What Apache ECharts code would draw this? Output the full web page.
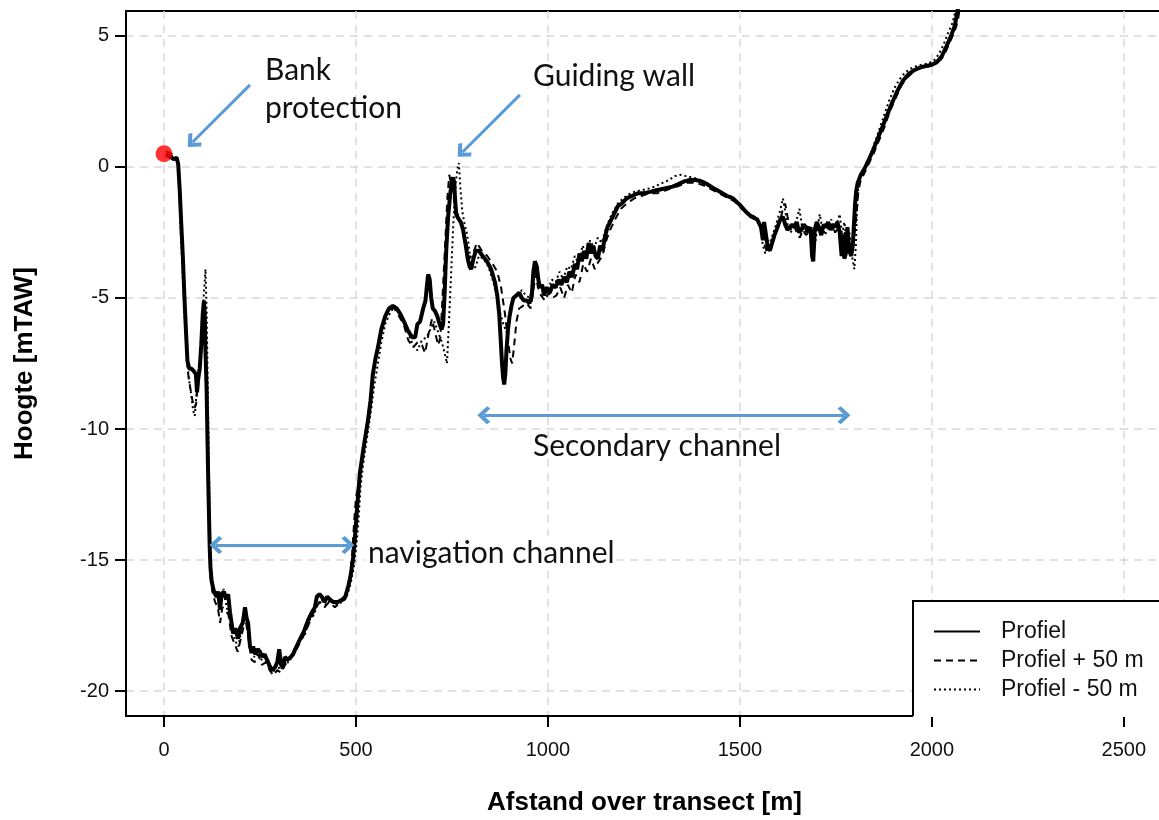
<!DOCTYPE html>
<html>
<head>
<meta charset="utf-8">
<title>Profiel transect</title>
<script src="https://cdn.jsdelivr.net/npm/echarts@6/dist/echarts.min.js"></script>
<style>
  html, body { margin: 0; padding: 0; background: #fff; }
  #chart { width: 1159px; height: 820px; }
</style>
</head>
<body>
<div id="chart"></div>
<script>
// afstand [m], hoogte [mTAW]
var profiel = [
  [5, 0.45], [15, 0.4], [25, 0.3], [33, 0.35], [37, 0.1], [41, -0.9], [45, -2.2], [49, -3.4], [53, -4.9], [57, -6.2],
  [61, -7.4], [66, -7.7], [72, -7.7], [78, -7.8], [83, -7.9], [86, -8.6], [89, -8.1], [93, -7.7], [97, -6.8], [101, -5.6],
  [104, -5.1], [106, -5.6], [108, -7.0], [111, -8.5], [113, -10.2], [115, -11.8], [117, -13.2], [119, -14.5], [121, -15.3], [124, -15.8],
  [130, -16.2], [137, -16.4], [141, -16.2], [146, -16.9], [150, -16.3], [156, -16.2], [162, -16.5], [167, -16.3], [172, -17.0], [180, -17.8],
  [186, -17.6], [193, -18.0], [198, -17.6], [205, -17.4], [211, -16.8], [215, -17.2], [219, -17.4], [224, -18.3], [228, -18.5], [232, -18.3],
  [238, -18.6], [244, -18.4], [250, -18.5], [256, -18.7], [262, -18.6], [268, -18.8], [274, -19.0], [281, -19.2], [289, -19.1], [295, -18.9],
  [300, -18.4], [305, -19.0], [310, -19.1], [315, -18.7], [322, -18.8], [330, -18.7], [336, -18.6], [345, -18.3], [355, -18.0], [365, -17.7],
  [375, -17.3], [385, -17.0], [393, -16.8], [398, -16.4], [405, -16.3], [411, -16.4], [418, -16.6], [425, -16.4], [432, -16.5], [440, -16.6],
  [453, -16.6], [465, -16.5], [472, -16.4], [480, -16.0], [486, -15.6], [492, -15.0], [497, -14.2], [503, -13.0], [510, -11.7], [520, -10.7],
  [531, -9.7], [538, -8.9], [544, -7.9], [551, -7.3], [557, -6.9], [566, -6.2], [576, -5.7], [586, -5.4], [596, -5.3], [606, -5.4],
  [615, -5.6], [622, -5.8], [634, -6.2], [646, -6.5], [654, -6.5], [660, -6.0], [667, -5.9], [675, -5.4], [681, -5.1], [685, -4.5],
  [688, -4.1], [692, -4.3], [696, -5.0], [700, -5.4], [706, -5.5], [712, -5.7], [718, -6.0], [723, -6.2], [727, -6.0], [731, -4.8],
  [735, -3.2], [740, -1.9], [745, -1.1], [749, -0.6], [753, -0.4], [756, -0.6], [758, -1.2], [761, -1.8], [764, -1.9], [768, -2.0],
  [773, -2.1], [779, -2.4], [786, -3.0], [791, -3.5], [796, -3.8], [800, -3.9], [806, -3.5], [812, -3.2], [820, -3.2], [830, -3.4],
  [841, -3.6], [852, -3.9], [862, -4.4], [868, -4.9], [873, -5.6], [877, -6.6], [880, -7.4], [883, -8.0], [886, -8.3], [889, -7.9],
  [892, -7.0], [896, -6.2], [900, -5.7], [905, -5.3], [910, -5.0], [918, -4.9], [925, -4.8], [932, -5.0], [938, -5.1], [945, -5.1],
  [952, -5.2], [958, -4.9], [962, -4.0], [966, -3.6], [971, -3.8], [975, -4.3], [979, -4.6], [985, -4.5], [990, -4.9], [997, -4.6],
  [1005, -4.8], [1012, -4.5], [1020, -4.6], [1028, -4.3], [1035, -4.5], [1042, -4.2], [1049, -4.4], [1056, -4.0], [1063, -4.2], [1070, -3.7],
  [1076, -3.9], [1082, -3.3], [1088, -3.6], [1094, -3.2], [1100, -3.5], [1106, -2.9], [1112, -3.3], [1118, -3.0], [1124, -3.4], [1130, -3.5],
  [1136, -3.0], [1142, -3.2], [1148, -2.7], [1155, -2.3], [1162, -2.1], [1172, -1.8], [1182, -1.5], [1192, -1.4], [1205, -1.2], [1220, -1.1],
  [1235, -1.0], [1250, -1.0], [1266, -0.95], [1280, -0.9], [1295, -0.85], [1310, -0.8], [1325, -0.75], [1340, -0.65], [1355, -0.55], [1370, -0.5],
  [1385, -0.5], [1400, -0.55], [1414, -0.65], [1430, -0.8], [1448, -0.95], [1465, -1.1], [1482, -1.2], [1500, -1.45], [1515, -1.7], [1530, -1.9],
  [1545, -2.0], [1555, -2.3], [1560, -2.8], [1563, -2.1], [1567, -2.5], [1572, -3.0], [1578, -3.2], [1584, -2.9], [1590, -2.6], [1598, -2.3],
  [1605, -2.0], [1612, -1.9], [1618, -2.2], [1624, -2.4], [1630, -2.3], [1636, -2.2], [1642, -2.3], [1648, -2.1], [1654, -2.5], [1660, -2.4],
  [1666, -2.2], [1672, -2.3], [1678, -2.5], [1684, -2.3], [1688, -3.4], [1691, -3.6], [1695, -2.4], [1700, -2.1], [1706, -2.3], [1712, -2.6],
  [1718, -2.2], [1724, -2.3], [1730, -2.1], [1736, -2.4], [1742, -2.2], [1748, -2.3], [1754, -2.1], [1760, -2.5], [1765, -3.4], [1768, -2.6],
  [1772, -3.5], [1776, -3.3], [1780, -2.3], [1785, -3.2], [1790, -3.4], [1794, -3.0], [1797, -2.2], [1800, -1.4], [1803, -0.9], [1807, -0.6],
  [1815, -0.3], [1825, -0.05], [1838, 0.35], [1850, 0.75], [1865, 1.3], [1880, 1.85], [1895, 2.4], [1910, 2.9], [1925, 3.3], [1940, 3.55],
  [1955, 3.7], [1970, 3.8], [1985, 3.85], [2000, 3.9], [2013, 4.0], [2025, 4.2], [2038, 4.6], [2050, 5.0], [2060, 5.4], [2066, 5.9],
  [2071, 6.3]
];

var profielPlus50 = [
  [5, 0.6], [20, 0.5], [32, 0.4], [38, 0.0], [43, -1.5], [48, -3.0], [53, -4.8], [58, -6.6], [62, -7.8], [68, -8.4],
  [74, -8.9], [80, -9.2], [84, -9.0], [88, -8.2], [94, -7.6], [99, -6.4], [103, -5.3], [106, -5.8], [109, -7.5], [112, -9.5],
  [115, -12.0], [118, -14.3], [121, -15.6], [126, -16.2], [133, -16.6], [140, -16.8], [146, -17.4], [152, -16.8], [160, -16.9], [168, -17.1],
  [176, -17.9], [184, -18.2], [192, -18.5], [200, -18.0], [208, -17.5], [214, -17.4], [220, -18.0], [228, -18.8], [236, -18.9], [245, -18.6],
  [255, -19.0], [265, -18.9], [275, -19.2], [285, -19.4], [295, -19.2], [305, -19.3], [315, -19.0], [328, -18.8], [342, -18.5], [356, -18.1],
  [370, -17.7], [384, -17.2], [396, -16.8], [406, -16.6], [418, -16.8], [430, -16.6], [445, -16.8], [460, -16.6], [472, -16.5], [482, -15.9],
  [490, -14.8], [495, -13.6], [500, -12.6], [505, -12.3], [512, -11.5], [522, -10.4], [533, -9.4], [542, -8.2], [552, -7.2], [562, -6.4],
  [574, -5.8], [588, -5.4], [600, -5.4], [612, -5.7], [624, -6.0], [636, -6.6], [648, -6.9], [660, -6.7], [672, -6.8], [680, -7.1],
  [690, -6.3], [698, -5.8], [706, -6.3], [714, -6.8], [720, -6.5], [726, -4.8], [732, -3.0], [738, -1.2], [743, -0.3], [747, -0.25],
  [751, -0.9], [756, -1.3], [762, -1.7], [770, -2.0], [778, -2.3], [786, -2.8], [795, -3.5], [805, -3.3], [815, -2.9], [828, -3.2],
  [842, -3.4], [856, -3.7], [868, -4.0], [878, -4.6], [888, -5.6], [896, -6.6], [902, -7.3], [907, -7.5], [912, -6.8], [918, -5.9],
  [925, -5.4], [935, -5.3], [945, -5.2], [955, -5.4], [963, -4.6], [968, -4.1], [974, -4.6], [982, -4.9], [992, -5.1], [1002, -4.8],
  [1012, -5.0], [1022, -4.9], [1032, -4.6], [1042, -5.0], [1052, -4.5], [1062, -4.8], [1072, -4.1], [1082, -4.4], [1092, -3.7], [1102, -4.0],
  [1112, -3.5], [1122, -3.9], [1132, -3.6], [1142, -3.4], [1152, -2.8], [1162, -2.4], [1175, -2.0], [1190, -1.6], [1205, -1.4], [1225, -1.2],
  [1245, -1.1], [1265, -1.0], [1285, -1.0], [1305, -0.9], [1325, -0.8], [1345, -0.7], [1365, -0.6], [1385, -0.6], [1405, -0.7], [1425, -0.85],
  [1445, -1.0], [1465, -1.15], [1485, -1.3], [1505, -1.6], [1522, -1.8], [1538, -1.9], [1550, -2.1], [1558, -2.6], [1565, -3.0], [1572, -3.3],
  [1580, -3.1], [1588, -2.7], [1596, -2.4], [1604, -2.1], [1612, -1.6], [1618, -1.4], [1624, -1.9], [1632, -2.4], [1640, -2.2], [1648, -2.5],
  [1656, -2.7], [1664, -2.4], [1672, -2.6], [1680, -2.5], [1690, -3.0], [1698, -2.4], [1708, -2.2], [1718, -2.5], [1728, -2.4], [1738, -2.2],
  [1748, -2.5], [1758, -2.3], [1766, -2.8], [1774, -2.5], [1782, -2.9], [1790, -3.1], [1798, -2.6], [1804, -1.8], [1808, -1.0], [1813, -0.6],
  [1822, -0.3], [1835, 0.1], [1848, 0.5], [1862, 1.0], [1876, 1.5], [1890, 2.1], [1905, 2.6], [1920, 3.1], [1935, 3.4], [1950, 3.6],
  [1965, 3.75], [1980, 3.8], [1995, 3.85], [2010, 3.95], [2024, 4.1], [2036, 4.4], [2048, 4.8], [2060, 5.2], [2068, 5.6], [2074, 6.2]
];

var profielMin50 = [
  [5, 0.5], [18, 0.45], [30, 0.35], [36, 0.2], [40, -1.0], [44, -2.6], [49, -4.2], [54, -5.8], [59, -7.1], [64, -8.0],
  [70, -8.6], [76, -9.3], [80, -9.5], [84, -8.8], [89, -7.8], [95, -7.4], [100, -6.0], [104, -4.8], [108, -3.9], [111, -5.5],
  [114, -8.4], [117, -11.5], [120, -14.0], [123, -15.4], [128, -16.0], [135, -16.3], [142, -16.5], [148, -16.6], [155, -16.1], [162, -16.7],
  [170, -17.2], [178, -17.6], [186, -18.1], [194, -18.3], [202, -17.6], [210, -17.0], [218, -17.6], [226, -18.4], [235, -18.7], [244, -18.5],
  [254, -18.8], [264, -18.9], [274, -19.1], [284, -19.3], [294, -19.0], [304, -19.2], [314, -18.9], [326, -18.9], [340, -18.4], [354, -18.0],
  [366, -17.9], [378, -17.3], [390, -17.1], [400, -16.7], [410, -16.5], [422, -16.7], [436, -16.5], [450, -16.7], [464, -16.6], [476, -16.4],
  [486, -15.9], [494, -15.3], [500, -14.6], [506, -13.6], [512, -12.2], [520, -11.2], [530, -10.2], [540, -9.2], [548, -8.3], [556, -7.6],
  [566, -6.7], [576, -6.0], [588, -5.6], [600, -5.3], [612, -5.5], [624, -5.9], [636, -6.3], [648, -6.8], [660, -7.0], [672, -6.6],
  [684, -6.5], [694, -6.2], [704, -5.9], [714, -6.3], [724, -6.7], [731, -7.1], [737, -7.5], [742, -6.0], [748, -4.0], [754, -2.0],
  [760, -0.6], [765, 0.0], [768, 0.15], [772, -0.8], [777, -1.7], [783, -2.2], [790, -2.6], [797, -3.4], [804, -3.9], [812, -3.8],
  [820, -3.4], [832, -3.5], [845, -3.8], [858, -4.4], [868, -5.0], [876, -5.6], [884, -6.0], [892, -6.3], [898, -6.0], [904, -5.4],
  [912, -5.0], [922, -4.9], [932, -4.7], [942, -4.9], [952, -5.0], [960, -4.6], [966, -3.9], [972, -4.2], [980, -4.5], [990, -4.5],
  [1000, -4.7], [1010, -4.3], [1020, -4.4], [1030, -4.0], [1040, -4.3], [1050, -3.8], [1060, -3.9], [1070, -3.4], [1080, -3.7], [1090, -3.0],
  [1100, -3.3], [1110, -2.8], [1120, -3.1], [1130, -2.7], [1140, -2.9], [1150, -2.4], [1160, -2.0], [1170, -1.7], [1182, -1.4], [1196, -1.2],
  [1210, -1.05], [1225, -0.95], [1240, -0.9], [1255, -0.85], [1270, -0.8], [1285, -0.7], [1300, -0.6], [1315, -0.5], [1330, -0.35], [1345, -0.3],
  [1360, -0.35], [1375, -0.4], [1390, -0.45], [1405, -0.55], [1420, -0.7], [1438, -0.85], [1456, -1.0], [1474, -1.1], [1492, -1.3], [1510, -1.6],
  [1525, -1.8], [1540, -1.9], [1552, -2.2], [1560, -3.0], [1566, -3.3], [1572, -3.1], [1580, -2.8], [1590, -2.4], [1598, -2.0], [1606, -1.6],
  [1612, -1.2], [1617, -1.6], [1624, -2.2], [1632, -2.5], [1640, -2.3], [1648, -2.0], [1655, -1.6], [1662, -2.3], [1670, -2.5], [1678, -2.2],
  [1686, -2.6], [1694, -3.1], [1700, -2.5], [1708, -1.8], [1714, -2.3], [1722, -2.6], [1730, -2.3], [1738, -2.0], [1745, -2.5], [1752, -2.2],
  [1760, -1.8], [1766, -2.6], [1772, -2.1], [1778, -2.9], [1785, -2.5], [1792, -3.4], [1798, -3.9], [1802, -3.0], [1805, -1.6], [1808, -0.8],
  [1814, -0.4], [1824, -0.1], [1836, 0.3], [1848, 0.8], [1860, 1.3], [1874, 1.9], [1888, 2.5], [1902, 3.0], [1916, 3.35], [1930, 3.6],
  [1945, 3.75], [1960, 3.85], [1975, 3.9], [1990, 3.95], [2005, 4.05], [2018, 4.3], [2030, 4.65], [2042, 5.1], [2054, 5.5], [2062, 6.0],
  [2067, 6.4]
];

var startPunt = [[0, 0.5]];

var xTicks = [0, 500, 1000, 1500, 2000, 2500];
var yTicks = [-20, -15, -10, -5, 0, 5];

// pijlen: [van, naar] in data-coordinaten
var pijlBank = [[224, 3.13], [74, 0.94]];
var pijlGeleidewand = [[927, 2.75], [777, 0.56]];
var pijlNevengeul = [[833, -9.47], [1771, -9.47]];
var pijlVaargeul = [[135, -14.43], [479, -14.43]];

var legendNames = ['Profiel', 'Profiel + 50 m', 'Profiel - 50 m'];

var blue = '#5B9BD5';
var chevron = 'path://M0,0L10,8.5L7.4,11.4L0,5.2L-7.4,11.4L-10,8.5Z';
var annFont = 'Lato, "Open Sans", sans-serif';
var axisFont = '"Liberation Sans", Arial, sans-serif';

var myChart = echarts.init(document.getElementById('chart'));

var option = {
  animation: false,
  backgroundColor: '#fff',
  grid: {
    left: 126, right: -4, top: 11, bottom: 104,
    outerBoundsMode: 'none',
    show: true, borderColor: '#000', borderWidth: 2, backgroundColor: 'transparent'
  },
  xAxis: {
    type: 'value', min: -99, max: 2602,
    name: 'Afstand over transect [m]', nameLocation: 'middle', nameGap: 74,
    nameTextStyle: { fontFamily: axisFont, fontWeight: 'bold', fontSize: 26, color: '#000' },
    axisLine: { show: true, onZero: false, lineStyle: { color: '#000', width: 2 } },
    axisTick: { show: true, length: 11, customValues: xTicks, lineStyle: { color: '#000', width: 2 } },
    axisLabel: {
      customValues: xTicks, margin: 24, fontFamily: axisFont, fontSize: 20, color: '#111',
      formatter: function (v) { return String(v); }
    },
    splitLine: { show: true, lineStyle: { color: '#d9d9d9', width: 1.5, type: [8, 6] } }
  },
  yAxis: {
    type: 'value', min: -20.95, max: 5.95,
    name: 'Hoogte [mTAW]', nameLocation: 'middle', nameGap: 88, nameRotate: 90,
    nameTextStyle: { fontFamily: axisFont, fontWeight: 'bold', fontSize: 26, color: '#000' },
    axisLine: { show: true, onZero: false, lineStyle: { color: '#000', width: 2 } },
    axisTick: { show: true, length: 11, customValues: yTicks, lineStyle: { color: '#000', width: 2 } },
    axisLabel: {
      customValues: yTicks, margin: 17, fontFamily: axisFont, fontSize: 20, color: '#111',
      formatter: function (v) { return String(v); }
    },
    splitLine: { show: true, lineStyle: { color: '#d9d9d9', width: 1.5, type: [8, 6] } }
  },
  legend: {
    data: legendNames,
    orient: 'vertical', left: 913, right: -150, top: 601,
    padding: [19, 40, 16, 20],
    itemWidth: 46, itemHeight: 14, itemGap: 6,
    itemStyle: { opacity: 0 },
    backgroundColor: '#fff', borderWidth: 0, borderRadius: 0,
    textStyle: { fontFamily: axisFont, fontSize: 23, color: '#111', padding: [0, 0, 0, 16], lineHeight: 22 }
  },
  graphic: [
    // legendakader: rechterkant valt buiten beeld
    {
      type: 'polyline', z: 50, silent: true,
      shape: { points: [[1165, 601], [913, 601], [913, 716]] },
      style: { stroke: '#000', lineWidth: 2, fill: null }
    },
    { type: 'text', left: 265, top: 51, z: 100, style: { text: 'Bank\nprotection', font: '30px ' + annFont, lineHeight: 38, fill: '#111' } },
    { type: 'text', left: 533, top: 61, z: 100, style: { text: 'Guiding wall', font: '30px ' + annFont, fill: '#111' } },
    { type: 'text', left: 533, top: 431, z: 100, style: { text: 'Secondary channel', font: '30px ' + annFont, fill: '#111' } },
    {
      type: 'text', left: 366, top: 536, z: 100,
      style: { text: 'navigation channel', font: '30px ' + annFont, fill: '#111', backgroundColor: '#fff', padding: [2, 2, 2, 2] }
    }
  ],
  series: [
    {
      name: 'Profiel + 50 m', type: 'line', data: profielPlus50, symbol: 'none',
      lineStyle: { color: '#000', width: 2, type: [7, 5] }, itemStyle: { color: '#000' }, z: 2
    },
    {
      name: 'Profiel - 50 m', type: 'line', data: profielMin50, symbol: 'none',
      lineStyle: { color: '#000', width: 2, type: [2, 3] }, itemStyle: { color: '#000' }, z: 2
    },
    {
      name: 'Profiel', type: 'line', data: profiel, symbol: 'none',
      lineStyle: { color: '#000', width: 4, type: 'solid' }, itemStyle: { color: '#000' }, z: 3,
      markLine: {
        silent: true, animation: false,
        lineStyle: { color: blue, width: 3, type: 'solid' },
        label: { show: false },
        symbolSize: [18, 13],
        data: [
          [{ coord: pijlBank[0], symbol: 'none' }, { coord: pijlBank[1], symbol: chevron }],
          [{ coord: pijlGeleidewand[0], symbol: 'none' }, { coord: pijlGeleidewand[1], symbol: chevron }],
          [{ coord: pijlNevengeul[0], symbol: chevron }, { coord: pijlNevengeul[1], symbol: chevron }],
          [{ coord: pijlVaargeul[0], symbol: chevron }, { coord: pijlVaargeul[1], symbol: chevron }]
        ]
      }
    },
    {
      name: 'start', type: 'scatter', data: startPunt, symbol: 'circle', symbolSize: 17,
      itemStyle: { color: '#ff0000' }, z: 4
    }
  ]
};

myChart.setOption(option);
</script>
</body>
</html>
